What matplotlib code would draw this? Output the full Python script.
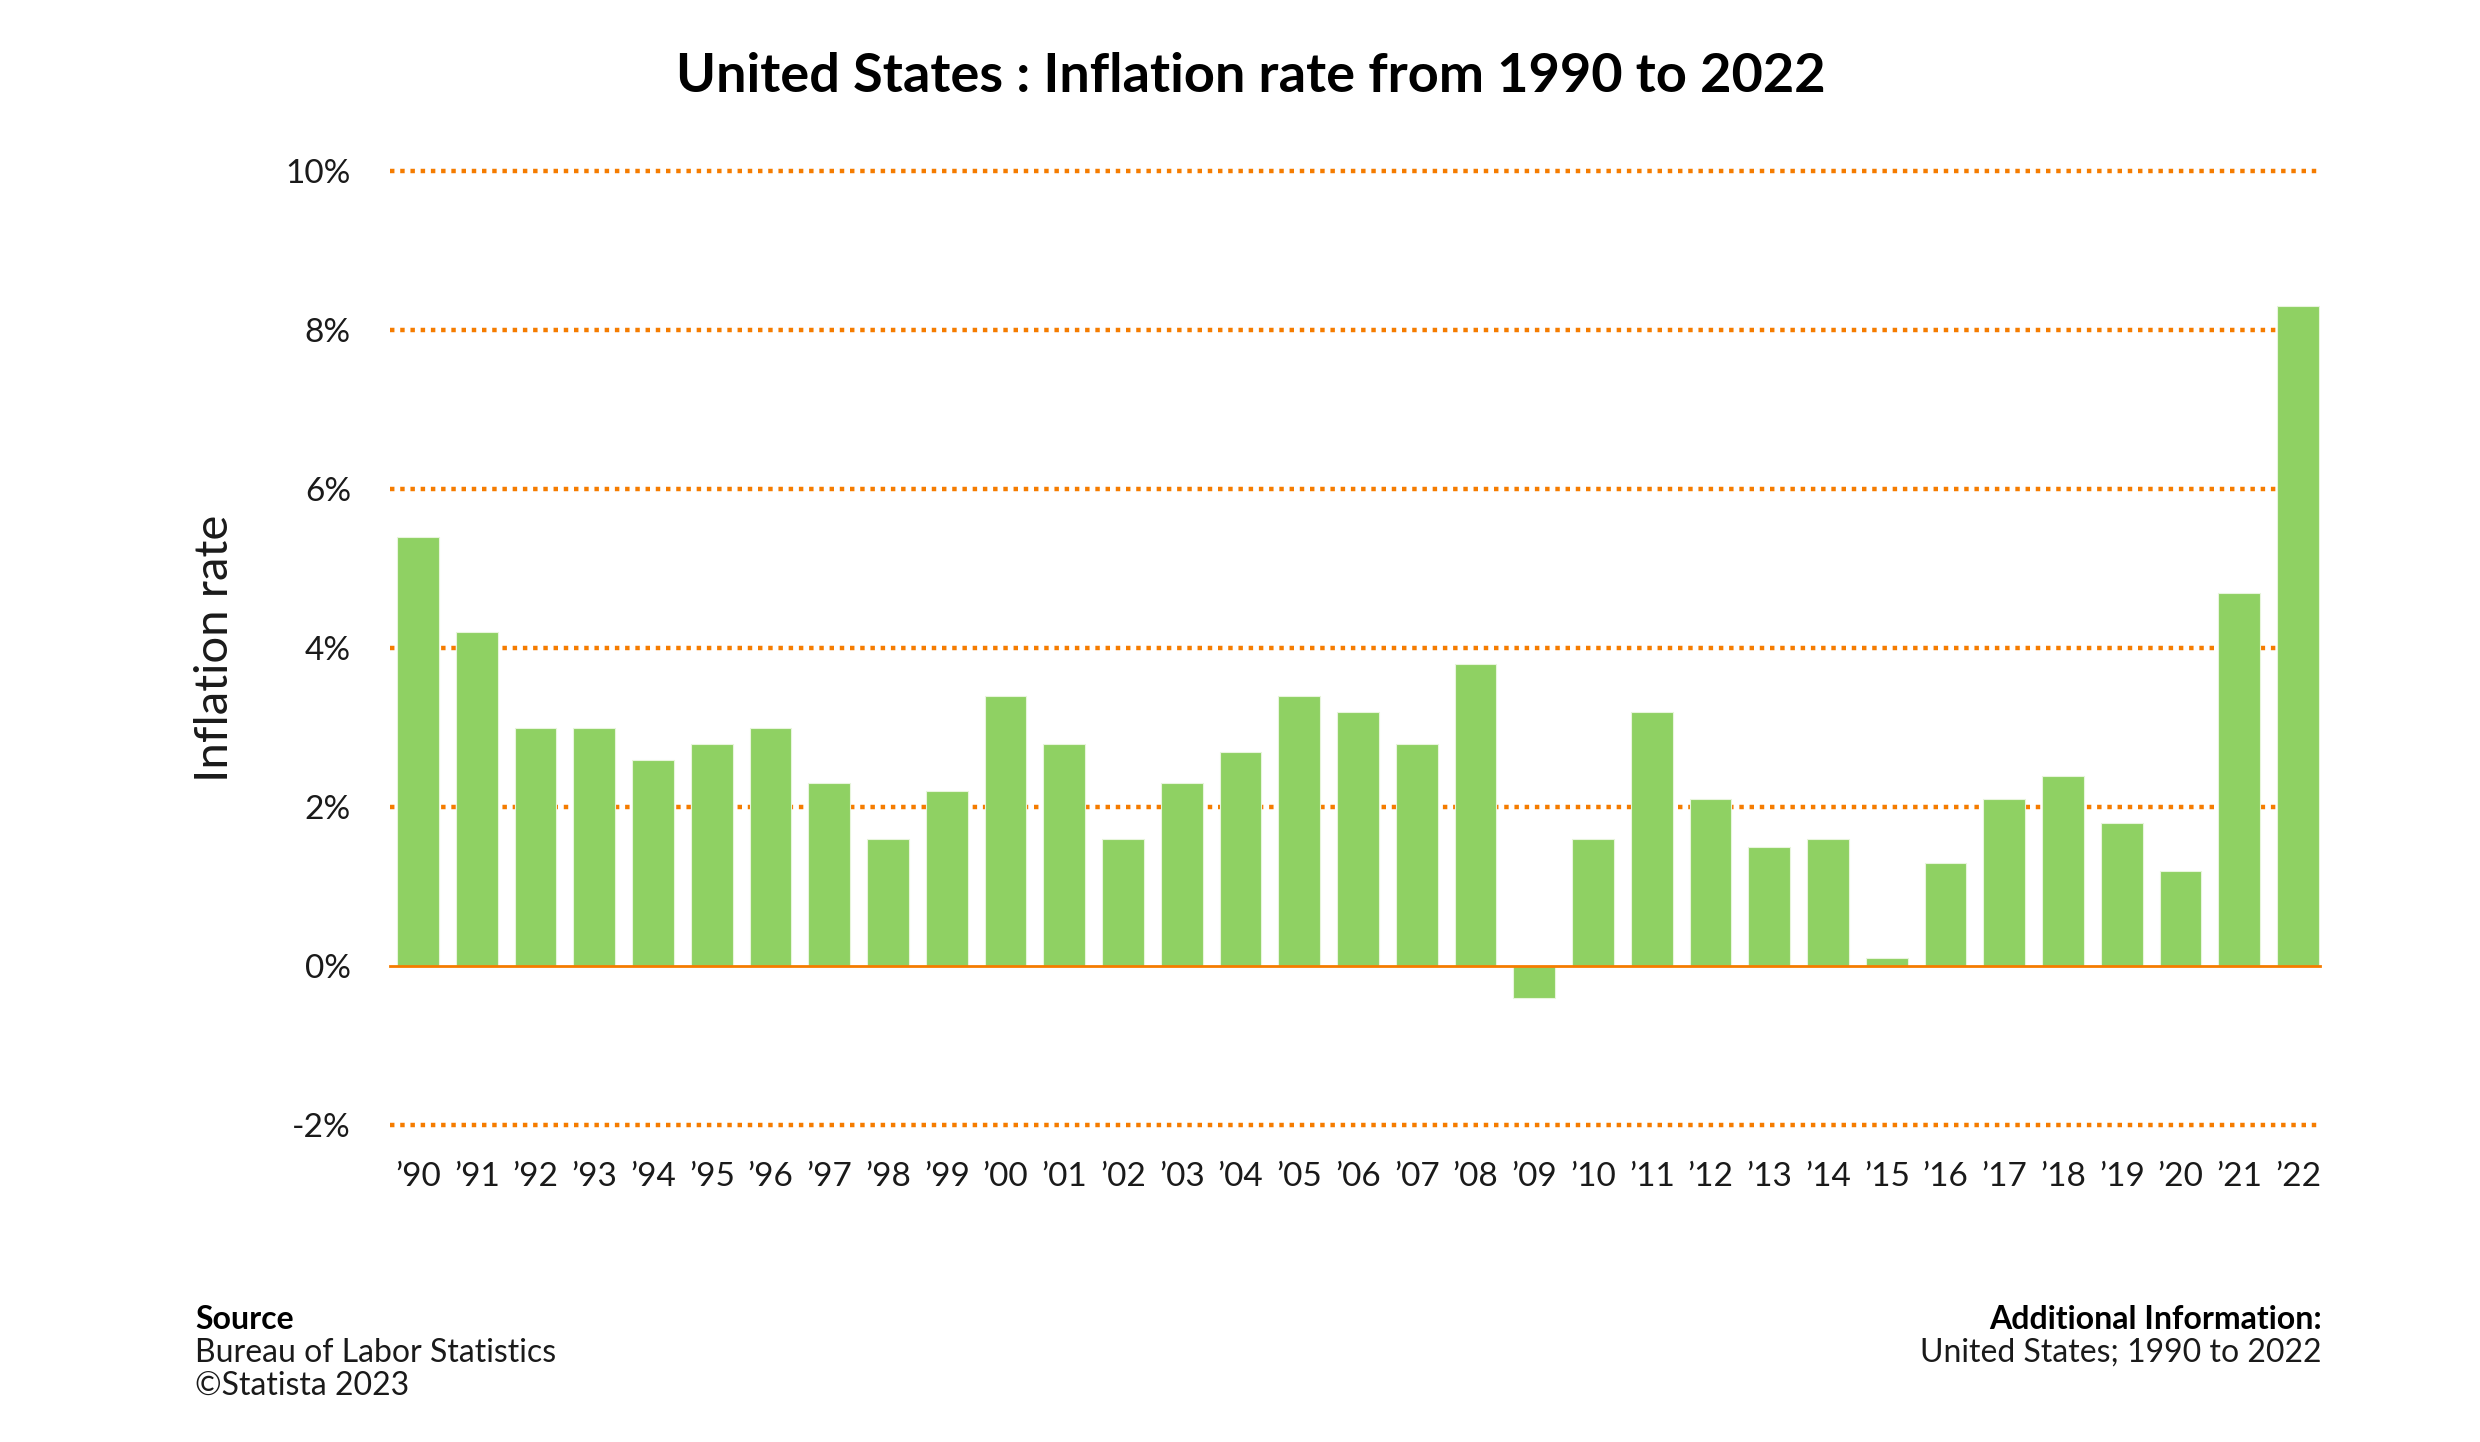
import numpy as np
import matplotlib.pyplot as plt

years = ["’90", "’91", "’92", "’93", "’94", "’95", "’96", "’97", "’98", "’99",
         "’00", "’01", "’02", "’03", "’04", "’05", "’06", "’07", "’08", "’09",
         "’10", "’11", "’12", "’13", "’14", "’15", "’16", "’17", "’18", "’19",
         "’20", "’21", "’22"]
inflation = [5.4, 4.2, 3.0, 3.0, 2.6, 2.8, 3.0, 2.3, 1.6, 2.2,
             3.4, 2.8, 1.6, 2.3, 2.7, 3.4, 3.2, 2.8, 3.8, -0.4,
             1.6, 3.2, 2.1, 1.5, 1.6, 0.1, 1.3, 2.1, 2.4, 1.8,
             1.2, 4.7, 8.3]
yticks = [-2, 0, 2, 4, 6, 8, 10]

plt.rcParams['font.family'] = ['Lato', 'DejaVu Sans']
orange = "#f57c00"
green = "#8fd163"
txt = "#1a1a1a"

fig = plt.figure(figsize=(12.4, 7.21), dpi=200)
ax = fig.add_axes([0.1572, 0.2195, 0.7784, 0.6619])

xs = np.arange(len(years))
ax.bar(xs, inflation, width=0.71, color=green, edgecolor="#e8f5dc", linewidth=0.4, zorder=1)

for t in yticks:
  if t == 0:
    ax.axhline(t, color=orange, linewidth=1.0, zorder=3, clip_on=False)
  else:
    ax.axhline(t, color=orange, linewidth=1.6, linestyle=(0, (1, 1.3)), zorder=0, clip_on=False)

ax.set_xlim(-0.48, 32.38)
ax.set_ylim(-2, 10)
ax.set_yticks(yticks)
ax.set_yticklabels([f"{t}%" for t in yticks], fontsize=12, color=txt)
ax.set_xticks(xs)
ax.set_xticklabels(years, fontsize=12, color=txt)
ax.tick_params(axis='both', length=0)
ax.tick_params(axis='y', pad=14)
ax.tick_params(axis='x', pad=13)
for s in ax.spines.values():
  s.set_visible(False)

ax.set_ylabel("Inflation rate", fontsize=17, color=txt, labelpad=18)

fig.text(0.5045, 0.947, "United States : Inflation rate from 1990 to 2022", ha='center', va='center',
         fontsize=19.5, fontweight='bold', color="black")

fig.text(0.0786, 0.085, "Source", ha='left', va='center', fontsize=11.5, fontweight='bold')
fig.text(0.0786, 0.062, "Bureau of Labor Statistics", ha='left', va='center', fontsize=11.5, color=txt)
fig.text(0.0786, 0.039, "©Statista 2023", ha='left', va='center', fontsize=11.5, color=txt)
fig.text(0.9362, 0.085, "Additional Information:", ha='right', va='center', fontsize=11.5, fontweight='bold')
fig.text(0.9362, 0.062, "United States; 1990 to 2022", ha='right', va='center', fontsize=11.5, color=txt)

fig.savefig("out.png", dpi=200, facecolor="white")
